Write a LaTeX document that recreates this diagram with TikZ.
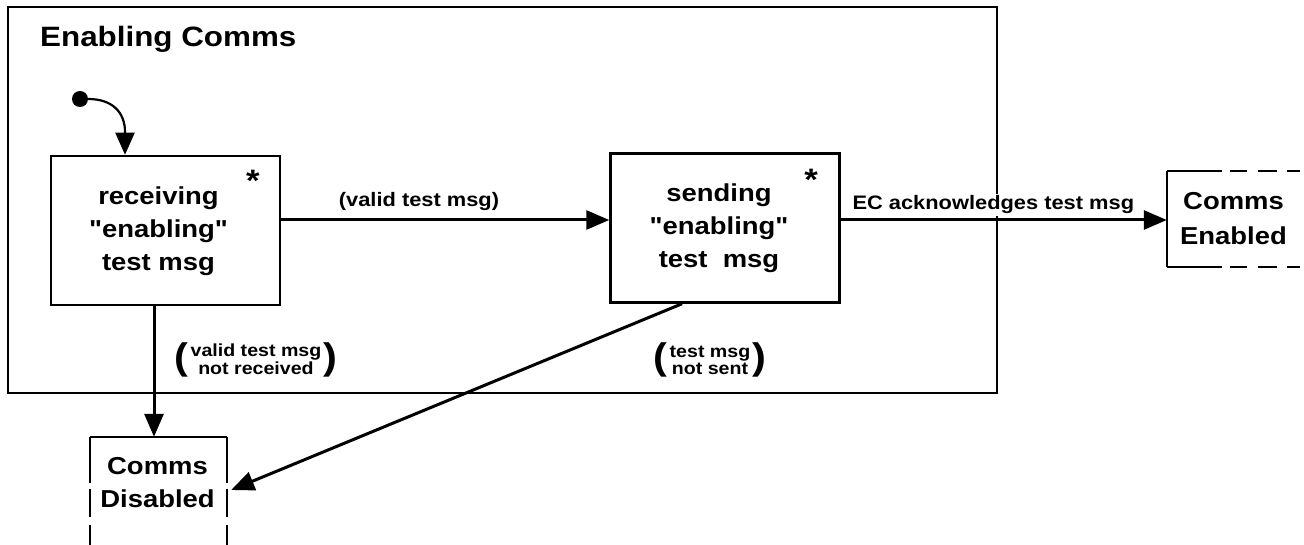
\documentclass[tikz,border=0pt]{standalone}
\usepackage{fontspec}
\setmainfont{Liberation Sans}[FakeStretch=1.12, Ligatures=TeXOff]
\usetikzlibrary{arrows.meta,calc}
\newcommand\guardparen[1]{\raisebox{-3pt}{\fontsize{37}{37}\selectfont #1}}
\begin{document}
\begin{tikzpicture}[x=1pt,y=-1pt,
  statebox/.style={draw, line width=2.5pt, minimum width=229pt, minimum height=149pt,
    align=center, inner sep=0pt, font=\bfseries\fontsize{24.5}{33}\selectfont},
  plaintext/.style={align=center, inner sep=0pt, font=\bfseries\fontsize{24.5}{35}\selectfont},
  arr/.style={line width=3pt, -{Triangle[length=23pt,width=19pt]}},
  thinarr/.style={line width=2.2pt, -{Triangle[length=22pt,width=19pt]}},
  lbl/.style={inner sep=2pt, font=\bfseries\fontsize{19.5}{22}\selectfont},
  guard/.style={inner sep=0pt, font=\bfseries\fontsize{17.5}{17}\selectfont},
  starmark/.style={anchor=base, inner sep=0pt, font=\bfseries\fontsize{31}{32}\selectfont},
  bord/.style={line width=2.5pt}]
\useasboundingbox[fill=white] (0,0) rectangle (1304,545);

% outer composite state
\draw[line width=2.2pt] (8,7) rectangle (997,393);
\node[anchor=base west, inner sep=0pt, font=\bfseries\fontsize{28}{34}\selectfont] (title) at (40,47) {Enabling Comms};

% helper coordinates
\coordinate (ya) at (0,220);
\coordinate (xin) at (125,0);
\coordinate (xv) at (154,0);
\coordinate (xd) at (682,0);
\coordinate (yd) at (0,490);

% states
\node[statebox] (b1) at (165.5,230.5) {\begin{tabular}{@{}c@{\hspace{14pt}}}receiving\\"enabling"\\test msg\end{tabular}};
\node[statebox] (b2) at (725,228) {\begin{tabular}{@{}c@{\hspace{12pt}}}sending\\"enabling"\\test\ \ msg\end{tabular}};
\node[starmark] (s1) at (253,192) {*};
\node[starmark] (s2) at (811,191) {*};

% initial pseudo state
\node[circle, fill, inner sep=0pt, minimum size=16pt] (init) at (80,99) {};
\draw[thinarr] (init.east) .. controls (112,99) and (125,112) .. (125,132) -- (b1.north -| xin);

% Comms Enabled (cut off at right)
\node[plaintext, minimum width=133pt, minimum height=96pt] (ce) at (1233.5,219) {Comms\\Enabled};
\draw[bord] (ce.north west) -- (ce.south west);
\draw[bord, dash pattern=on 55pt off 8pt on 17pt off 11pt on 19pt off 10pt on 13pt off 10pt]
  (ce.north west) -- ++(137,0);
\draw[bord, dash pattern=on 55pt off 8pt on 17pt off 11pt on 19pt off 10pt on 13pt off 10pt]
  (ce.south west) -- ++(137,0);

% Comms Disabled (cut off at bottom)
\node[minimum width=137pt, minimum height=110pt, inner sep=0pt] (cd) at (158.5,492) {};
\node[plaintext, font=\bfseries\fontsize{24.5}{33}\selectfont] (cdt) at (157.5,482.7) {Comms\\Disabled};
\draw[bord] (cd.north west) -- (cd.north east);
\draw[bord, dash pattern=on 46pt off 6pt on 28pt off 8pt on 30pt off 10pt] (cd.north west) -- (cd.south west);
\draw[bord, dash pattern=on 46pt off 6pt on 28pt off 8pt on 30pt off 10pt] (cd.north east) -- (cd.south east);

% transitions
\draw[arr] (b1.east |- ya) -- (b2.west |- ya)
  node[lbl, pos=0.42, anchor=base, yshift=13pt] (l1) {(valid test msg)};
\draw[arr] (b2.east |- ya) -- (ce.west |- ya)
  node[lbl, pos=0.468, anchor=base, yshift=10pt, fill=white] (l2) {EC acknowledges test msg};
\draw[arr] (b1.south -| xv) -- (cd.north -| xv);
\draw[arr] (b2.south -| xd) -- ([xshift=4pt]cd.east |- yd);

% guards
\node[guard] (g1) at (256,361) {\guardparen{(}\hspace{2pt}\begin{tabular}{@{}c@{}}valid test msg\\not received\end{tabular}\hspace{2pt}\guardparen{)}};
\node[guard] (g2) at (710,361) {\guardparen{(}\hspace{2pt}\begin{tabular}{@{}c@{}}test msg\\not sent\end{tabular}\hspace{2pt}\guardparen{)}};
\end{tikzpicture}
\end{document}
